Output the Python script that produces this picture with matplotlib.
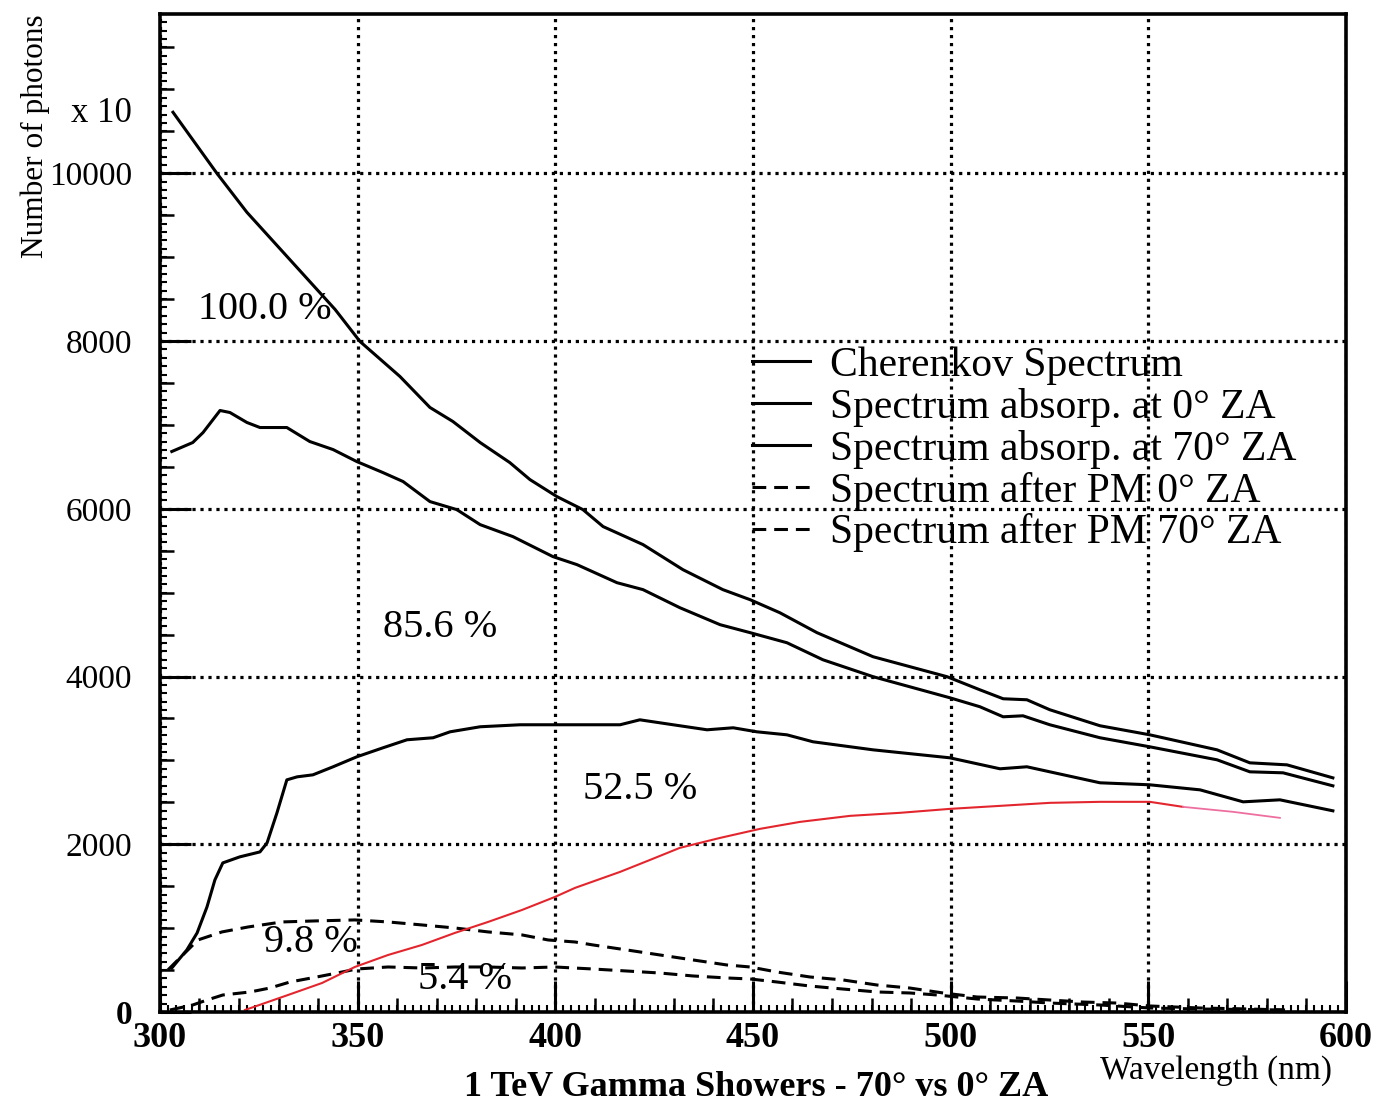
import matplotlib
matplotlib.use("Agg")
import matplotlib.pyplot as plt
from matplotlib.ticker import MultipleLocator

plt.rcParams['font.family'] = ['Liberation Serif', 'DejaVu Serif']

# Cherenkov spectrum (photons x 10 vs wavelength in nm)
wl_cher = [303.3, 314.4, 322.0, 344.3, 350.6, 360.7, 368.3, 374.1, 381.0, 388.5,
           393.6, 400.4, 407.0, 412.1, 422.2, 432.3, 442.4, 449.3, 456.8, 466.2,
           480.4, 499.1, 507.4, 513.3, 519.3, 525.1, 537.8, 550.4, 567.4, 575.7,
           585.1, 596.7]
n_cher = [10728, 10000, 9535, 8377, 7995, 7578, 7208, 7041, 6790, 6551,
          6348, 6146, 5990, 5788, 5573, 5274, 5036, 4916, 4761, 4523,
          4236, 3998, 3842, 3735, 3723, 3604, 3413, 3305, 3126, 2971,
          2947, 2792]

# after atmospheric absorption, 0 deg zenith angle
wl_abs0 = [303.0, 308.3, 310.9, 315.2, 317.7, 322.0, 325.3, 332.1, 337.9, 343.8,
           349.8, 356.4, 361.5, 368.3, 375.1, 381.0, 389.3, 399.4, 405.5, 415.6,
           422.2, 431.5, 441.7, 449.3, 458.6, 467.7, 480.4, 499.8, 507.4, 513.3,
           518.3, 525.1, 537.8, 550.4, 567.4, 575.7, 584.1, 596.7]
n_abs0 = [6683, 6790, 6909, 7172, 7148, 7029, 6969, 6969, 6802, 6706,
          6563, 6432, 6325, 6086, 5990, 5811, 5668, 5430, 5334, 5119,
          5036, 4821, 4618, 4523, 4403, 4200, 3998, 3747, 3640, 3520,
          3532, 3425, 3270, 3162, 3007, 2864, 2852, 2697]

# after atmospheric absorption, 70 deg zenith angle
wl_abs70 = [303.0, 306.8, 309.4, 311.9, 313.9, 315.9, 320.2, 325.3, 327.1, 329.6,
            332.1, 334.7, 338.7, 343.8, 349.8, 356.4, 362.5, 369.1, 373.4, 381.0,
            391.1, 400.0, 404.5, 416.4, 421.4, 429.8, 438.4, 445.0, 451.0, 458.6,
            465.2, 480.4, 499.8, 512.5, 519.3, 525.1, 537.8, 550.4, 563.1, 574.0,
            583.3, 596.7]
n_abs70 = [525, 740, 943, 1253, 1575, 1778, 1850, 1909, 2017, 2375,
           2768, 2804, 2828, 2924, 3043, 3150, 3246, 3270, 3341, 3401,
           3425, 3425, 3425, 3425, 3484, 3425, 3365, 3389, 3341, 3305,
           3222, 3126, 3031, 2900, 2924, 2864, 2733, 2709, 2649, 2506,
           2530, 2399]

# after photomultiplier, 0 deg ZA
wl_pm0 = [302.0, 306.3, 309.6, 315.7, 322.3, 330.9, 339.2, 349.3, 357.7, 366.3,
          374.6, 383.0, 391.6, 398.2, 405.0, 409.5, 418.1, 426.5, 434.8, 443.4,
          449.3, 456.1, 464.4, 472.8, 481.4, 489.7, 498.1, 506.7, 516.8, 525.1,
          533.5, 542.1, 550.4, 563.1, 575.7, 584.6]
n_pm0 = [501, 704, 859, 955, 1014, 1074, 1086, 1098, 1074, 1038,
         1002, 955, 919, 859, 835, 800, 740, 680, 621, 561,
         537, 477, 418, 382, 322, 286, 227, 179, 167, 143,
         119, 107, 72, 48, 36, 24]

# after photomultiplier, 70 deg ZA
wl_pm70 = [302.5, 308.3, 311.9, 315.9, 322.8, 327.8, 332.9, 339.7, 344.8, 349.8,
           357.7, 366.3, 374.6, 383.0, 391.6, 399.9, 409.5, 418.1, 426.5, 434.8,
           443.4, 449.3, 456.1, 464.4, 472.8, 481.4, 489.7, 496.6, 506.7, 516.8,
           525.1, 537.8, 550.4, 563.1, 584.6]
n_pm70 = [24, 84, 143, 203, 239, 286, 358, 418, 465, 513,
          537, 525, 537, 537, 525, 537, 513, 489, 465, 430,
          406, 394, 358, 310, 274, 239, 227, 203, 155, 131,
          107, 84, 48, 36, 24]

# red curve
wl_red = [321.5, 332.4, 341.0, 349.3, 357.7, 366.3, 374.6, 383.0, 391.6, 399.9,
          405.0, 416.4, 424.0, 431.5, 441.7, 451.8, 461.9, 474.6, 487.2, 499.8,
          512.5, 525.1, 537.8, 550.4, 558.8]
n_red = [24, 203, 346, 537, 680, 800, 943, 1074, 1217, 1372,
         1480, 1671, 1814, 1957, 2076, 2184, 2267, 2339, 2375, 2422,
         2458, 2494, 2506, 2506, 2446]
wl_red_tail = [558.8, 571.4, 583.3]
n_red_tail = [2446, 2387, 2315]

legend_labels = ["Cherenkov Spectrum",
                 "Spectrum absorp. at 0° ZA",
                 "Spectrum absorp. at 70° ZA",
                 "Spectrum after PM 0° ZA",
                 "Spectrum after PM 70° ZA"]

pct_text = ["100.0 %", "85.6 %", "52.5 %", "9.8 %", "5.4 %"]
pct_x = [326.6, 370.8, 421.4, 338.2, 377.2]
pct_y = [8377, 4582, 2649, 823, 382]

fig = plt.figure(figsize=(13.8, 11.07), dpi=100)
ax = fig.add_axes([0.1159, 0.0858, 0.8594, 0.9016])

lw = 2.2
dash = (0, (4.5, 2.6))
ax.plot(wl_cher, n_cher, color='black', lw=lw, label=legend_labels[0])
ax.plot(wl_abs0, n_abs0, color='black', lw=lw, label=legend_labels[1])
ax.plot(wl_abs70, n_abs70, color='black', lw=lw, label=legend_labels[2])
ax.plot(wl_pm0, n_pm0, color='black', lw=lw, ls=dash, label=legend_labels[3])
ax.plot(wl_pm70, n_pm70, color='black', lw=lw, ls=dash, label=legend_labels[4])
ax.plot(wl_red, n_red, color='#e3262e', lw=1.5)
ax.plot(wl_red_tail, n_red_tail, color='#ee6f9f', lw=1.3)

for t, x, y in zip(pct_text, pct_x, pct_y):
    ax.text(x, y, t, fontsize=29, ha='center', va='center')

ax.set_xlim(300, 600)
ax.set_ylim(0, 11900)

ax.xaxis.set_major_locator(MultipleLocator(50))
ax.xaxis.set_minor_locator(MultipleLocator(2))
ax.yaxis.set_minor_locator(MultipleLocator(100))
ax.set_yticks(range(0, 10001, 2000))

ax.grid(True, which='major', color='black', lw=2.3, ls=(0, (1, 1.5)))
ax.set_axisbelow(True)

ax.tick_params(which='major', direction='in', length=22, width=2.2,
               top=False, right=False)
ax.tick_params(which='minor', direction='in', length=5, width=1.5,
               top=False, right=False)
ax.tick_params(axis='x', which='major', labelsize=26, pad=7)
ax.tick_params(axis='y', which='major', labelsize=24, pad=20)
for lab in ax.get_xticklabels():
    lab.set_fontweight('bold')
ax.get_yticklabels()[0].set_fontweight('bold')

for s in ax.spines.values():
    s.set_linewidth(2.6)

# intermediate ticks: every 10 nm and every 500 photons
sx = ax.secondary_xaxis('bottom')
sx.set_xticks(range(300, 601, 10))
sx.tick_params(direction='in', length=10, width=1.8, labelbottom=False)
sx.spines['bottom'].set_visible(False)
sy = ax.secondary_yaxis('left')
sy.set_yticks(range(0, 11901, 500))
sy.tick_params(direction='in', length=10, width=1.8, labelleft=False)
sy.spines['left'].set_visible(False)

ax.legend(loc='upper left', bbox_to_anchor=(0.499, 0.667), frameon=False,
          fontsize=30, handlelength=1.39, handletextpad=0.48,
          borderpad=0, borderaxespad=0, labelspacing=0.07)

fig.text(35 / 1380, 1 - 136 / 1107, "Number of photons", rotation=90,
         fontsize=22.5, ha='center', va='center')
fig.text(101 / 1380, 1 - 113 / 1107, "x 10", fontsize=25, ha='center',
         va='center')
fig.text(1216 / 1380, 1 - 1071 / 1107, "Wavelength (nm)", fontsize=24,
         ha='center', va='center')
fig.text(756 / 1380, 1 - 1088 / 1107, "1 TeV Gamma Showers - 70° vs 0° ZA",
         fontsize=26, fontweight='bold', ha='center', va='center')

fig.savefig("out.png", dpi=100, facecolor='white')
